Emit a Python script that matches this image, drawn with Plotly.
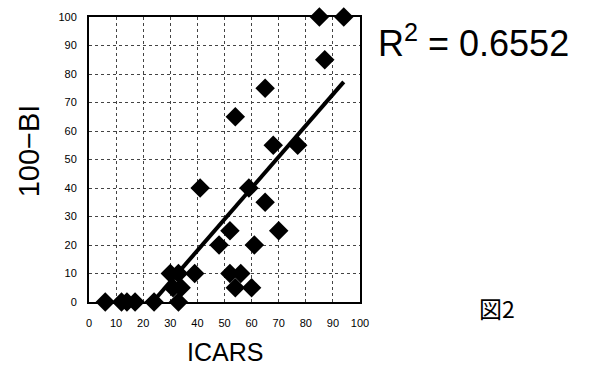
import numpy as np
import plotly.graph_objects as go

icars = [6, 12, 14, 17, 24, 33, 30, 33, 31, 34, 39, 41, 48, 52, 52, 56, 54, 60, 59, 61, 65, 70,
         68, 77, 85, 94, 87, 65, 54]
bi = [0, 0, 0, 0, 0, 0, 10, 10, 5, 5, 10, 40, 20, 25, 10, 10, 5, 5, 40, 20, 35, 25,
      55, 55, 100, 100, 85, 75, 65]
r2_text = "R<sup>2</sup> = 0.6552"
x_ticks = list(range(0, 101, 10))
y_ticks = list(range(0, 101, 10))

coef = np.polyfit(icars, bi, 1)
fx = [min(icars), max(icars)]
fy = [coef[0] * v + coef[1] for v in fx]

fig = go.Figure()
fig.add_trace(go.Scatter(x=icars, y=bi, mode="markers",
                         marker=dict(symbol="diamond", size=15, color="black"),
                         cliponaxis=False, showlegend=False))
fig.add_trace(go.Scatter(x=fx, y=fy, mode="lines",
                         line=dict(color="black", width=4), showlegend=False))

axis_common = dict(showline=True, linecolor="black", linewidth=2, mirror=True,
                   showgrid=True, gridcolor="#444444", griddash="dot", gridwidth=1,
                   zeroline=False, ticks="", automargin=False,
                   tickfont=dict(size=11, color="black", family="Liberation Sans"))
fig.update_xaxes(range=[0, 100], tickvals=x_ticks, ticklabelstandoff=10, **axis_common)
fig.update_yaxes(range=[0, 100], tickvals=y_ticks, ticklabelstandoff=8, **axis_common)

fig.add_annotation(text="ICARS", xref="paper", yref="paper", x=0.5, y=-0.175,
                   xanchor="center", yanchor="middle", showarrow=False,
                   font=dict(size=25, family="Liberation Sans", color="black"))
fig.add_annotation(text="100−BI", xref="paper", yref="paper", x=-0.22, y=0.53,
                   xanchor="center", yanchor="middle", showarrow=False, textangle=-90,
                   font=dict(size=29, family="Liberation Sans", color="black"))
fig.add_annotation(text=r2_text, xref="paper", yref="paper", x=1.06, y=0.915,
                   xanchor="left", yanchor="middle", showarrow=False,
                   font=dict(size=36, family="Liberation Sans", color="black"))
fig.add_annotation(text="図2", xref="paper", yref="paper", x=1.43, y=-0.02,
                   xanchor="left", yanchor="middle", showarrow=False,
                   font=dict(size=23, family="Noto Sans CJK JP", color="black"))

fig.update_layout(width=589, height=367, margin=dict(l=89, r=229, t=17, b=65),
                  plot_bgcolor="white", paper_bgcolor="white")
fig.write_html("out.html", config={"displayModeBar": False},
               post_script="document.body.style.margin='0';")
